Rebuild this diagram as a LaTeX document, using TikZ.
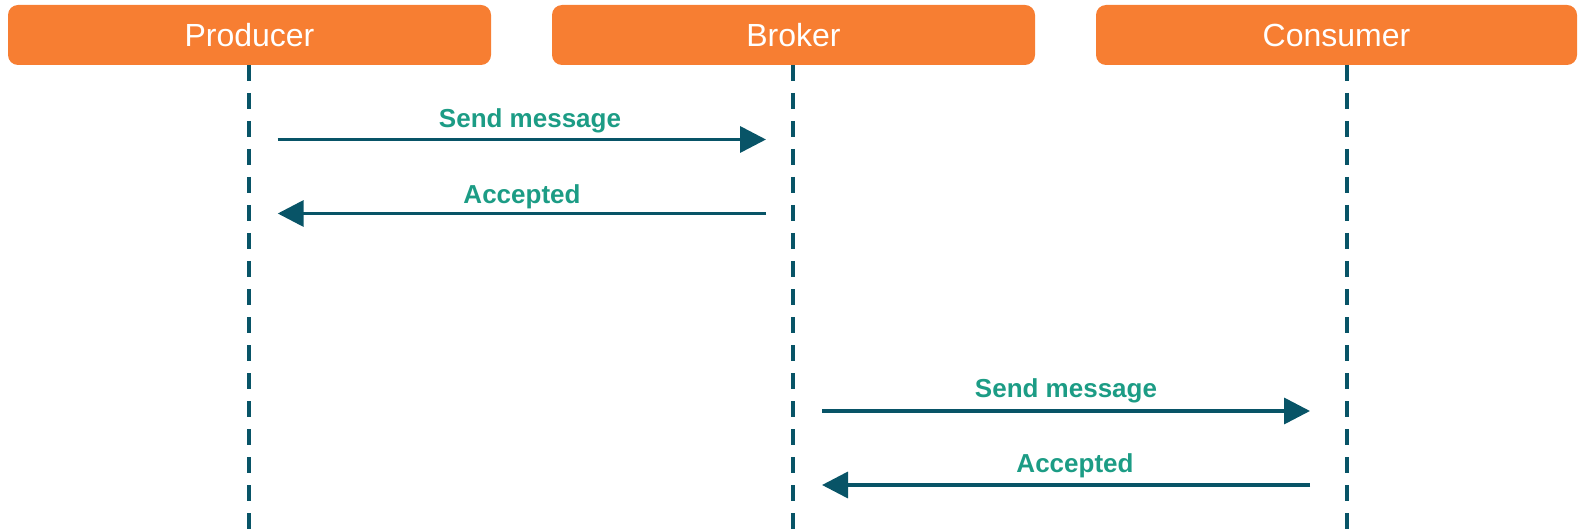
\documentclass[tikz,border=0pt]{standalone}
\usepackage{fontspec}
\setmainfont{Liberation Sans}
\usetikzlibrary{arrows.meta}

\definecolor{actorfill}{HTML}{F77E32}
\definecolor{lifecol}{HTML}{085467}
\definecolor{msgtext}{HTML}{1C9C85}

\tikzset{
  actor/.style={fill=actorfill, rounded corners=5pt, inner sep=0pt,
    minimum width=241.5pt, minimum height=30pt, text=white,
    font=\fontsize{16pt}{19pt}\selectfont},
  lifeline/.style={draw=lifecol, line width=2pt, dash pattern=on 7.85pt off 6.15pt},
  msg/.style={draw=lifecol, line width=1.8pt,
    -{Triangle[length=13pt, width=13pt]}},
  msglabel/.style={text=msgtext, anchor=base, inner sep=0pt,
    font=\fontsize{13pt}{16pt}\selectfont\bfseries}
}

\begin{document}
\begin{tikzpicture}[x=0.5pt, y=-0.5pt]
  \useasboundingbox (0,0) rectangle (1578,529);

  % participants
  \node[actor] (prod) at (249.5,35) {Producer};
  \node[actor] (brok) at (793.5,35) {Broker};
  \node[actor, minimum width=240.5pt] (cons) at (1336.5,35) {Consumer};

  % lifeline ends
  \coordinate (prodTop) at (249.3,65);
  \coordinate (prodBot) at (249.3,540);
  \coordinate (brokTop) at (793.3,65);
  \coordinate (brokBot) at (793.3,540);
  \coordinate (consTop) at (1347,65);
  \coordinate (consBot) at (1347,540);

  \draw[lifeline] (prodTop) -- (prodBot);
  \draw[lifeline] (brokTop) -- (brokBot);
  \draw[lifeline] (consTop) -- (consBot);

  % message end points
  \coordinate (pA) at (277.7,139.5);
  \coordinate (bA) at (766,139.5);
  \coordinate (pB) at (277.7,213.5);
  \coordinate (bB) at (766,213.5);
  \coordinate (bC) at (822,411);
  \coordinate (cC) at (1310,411);
  \coordinate (bD) at (822,485);
  \coordinate (cD) at (1310,485);

  % messages
  \draw[msg] (pA) -- (bA);
  \draw[msg] (bB) -- (pB);
  \draw[msg] (bC) -- (cC);
  \draw[msg] (cD) -- (bD);

  % message labels
  \node[msglabel] (l1) at (530,128) {Send message};
  \node[msglabel] (l2) at (522,204) {Accepted};
  \node[msglabel] (l3) at (1066,397) {Send message};
  \node[msglabel] (l4) at (1075,472) {Accepted};
\end{tikzpicture}
\end{document}
